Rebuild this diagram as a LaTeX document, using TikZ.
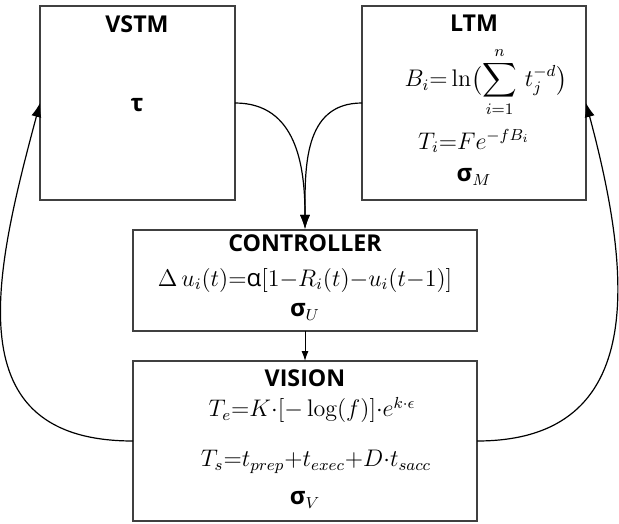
\documentclass[tikz,border=0pt]{standalone}
\usepackage{amsmath}
\usepackage{fontspec}
\newfontfamily\titlefont{Open Sans}
\newfontfamily\grk{Open Sans}
\usetikzlibrary{arrows.meta}
\tikzset{
  box/.style={draw=black!75, line width=0.65pt, rectangle, inner sep=0pt, outer sep=0pt},
  ttl/.style={font=\titlefont\bfseries\fontsize{11.6}{14}\selectfont, inner sep=0pt},
  eq/.style={font=\fontsize{12}{14}\selectfont, inner sep=0pt},
  conn/.style={line width=0.6pt, -{Latex[length=7pt,width=5pt]}},
  small/.style={line width=0.5pt, -{Latex[length=5pt,width=3.5pt]}}
}
\newcommand{\gs}[1]{\text{\grk\bfseries #1}}
\begin{document}
\begin{tikzpicture}[x=0.5pt,y=-0.5pt]
\useasboundingbox (0,0) rectangle (619,523);
% boxes
\node[box, minimum width=97.5pt, minimum height=97pt] (vstm) at (137.5,103) {};
\node[box, minimum width=112pt, minimum height=97pt] (ltm) at (474,103) {};
\node[box, minimum width=172pt, minimum height=50.5pt] (ctrl) at (305,280.5) {};
\node[box, minimum width=172pt, minimum height=80pt] (vis) at (305,441) {};
% VSTM
\node[ttl] (vstmt) at (137,24) {VSTM};
\node[eq] (tau) at (137,105) {$\gs{τ}$};
% LTM
\node[ttl] (ltmt) at (474,23) {LTM};
\node[eq] (bi) at (486,82) {$\displaystyle B_i{=}\ln\bigl(\sum_{i=1}^{n}\, t_j^{-d}\bigr)$};
\node[eq] (ti) at (474,141) {$T_i{=}Fe^{-fB_i}$};
\node[eq] (sm) at (474,177) {$\gs{σ}_M$};
% CONTROLLER
\node[ttl] (ctrlt) at (305,243) {CONTROLLER};
\node[eq] (du) at (305,280) {$\Delta\, u_i(t){=}\text{\grk α}[1{-}R_i(t){-}u_i(t{-}1)]$};
\node[eq] (su) at (305,312) {$\gs{σ}_U$};
% VISION
\node[ttl] (vist) at (305,378) {VISION};
\node[eq] (te) at (312,410) {$T_e{=}K{\cdot}[{-}\log(f)]{\cdot}e^{k\cdot\epsilon}$};
\node[eq] (ts) at (316,462) {$T_s{=}t_{prep}{+}t_{exec}{+}D{\cdot}t_{sacc}$};
\node[eq] (sv) at (305,500) {$\gs{σ}_V$};
% connectors
\coordinate (join) at (305,229);
\draw[conn] (vstm.east) to[out=0,in=90,looseness=1.1] (join);
\draw[conn] (ltm.west) to[out=180,in=90,looseness=1.1] (join);
\draw[small] (ctrl.south) -- (vis.north);
\draw[conn] (vis.west) to[out=180,in=-105,looseness=1.3] (vstm.west);
\draw[conn] (vis.east) to[out=0,in=-75,looseness=1.25] (ltm.east);
\end{tikzpicture}
\end{document}
